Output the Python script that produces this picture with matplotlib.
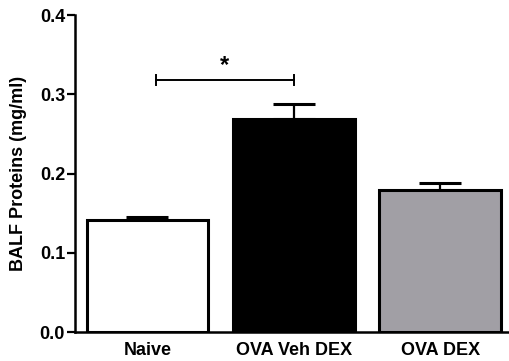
import matplotlib.pyplot as plt
import numpy as np

plt.rcParams['font.family'] = ['Liberation Sans', 'DejaVu Sans']
plt.rcParams['font.weight'] = 'bold'

groups = ['Naive', 'OVA Veh DEX', 'OVA DEX']
means = [0.141, 0.269, 0.179]
sems = [0.004, 0.019, 0.009]
colors = ['white', 'black', '#a19fa5']
sig_pair = (0.06, 1.0)
sig_y = 0.318

fig = plt.figure(figsize=(5.09, 3.61), dpi=100)
ax = fig.add_axes([0.147, 0.080, 0.853, 0.878])

x = np.arange(len(groups))
ax.bar(x, means, width=0.83, color=colors, edgecolor='black', linewidth=2.2,
       zorder=2)
ax.errorbar(x, means, yerr=[np.zeros(len(sems)), sems], fmt='none',
            ecolor='black', elinewidth=1.6, capsize=15, capthick=2.2, zorder=1)

# significance bracket
ax.plot(sig_pair, [sig_y, sig_y], color='black', lw=1.4)
for xx in sig_pair:
    ax.plot([xx, xx], [sig_y - 0.006, sig_y + 0.006], color='black', lw=1.4)
ax.text(np.mean(sig_pair), sig_y + 0.004, '*', ha='center', va='bottom',
        fontsize=17, fontweight='bold')

ax.set_xlim(-0.495, 2.47)
ax.set_ylim(0, 0.4)
ax.set_yticks([0.0, 0.1, 0.2, 0.3, 0.4])
ax.set_yticklabels(['0.0', '0.1', '0.2', '0.3', '0.4'])
ax.set_xticks(x)
ax.set_xticklabels(groups)
ax.tick_params(axis='x', length=0, labelsize=13, pad=7)
ax.tick_params(axis='y', length=6, width=1.6, labelsize=13, pad=1)
ax.set_ylabel('BALF Proteins (mg/ml)', fontsize=13, fontweight='bold', labelpad=9)

for s in ['top', 'right']:
    ax.spines[s].set_visible(False)
for s in ['left', 'bottom']:
    ax.spines[s].set_linewidth(1.8)

fig.savefig('out.png', dpi=100)
